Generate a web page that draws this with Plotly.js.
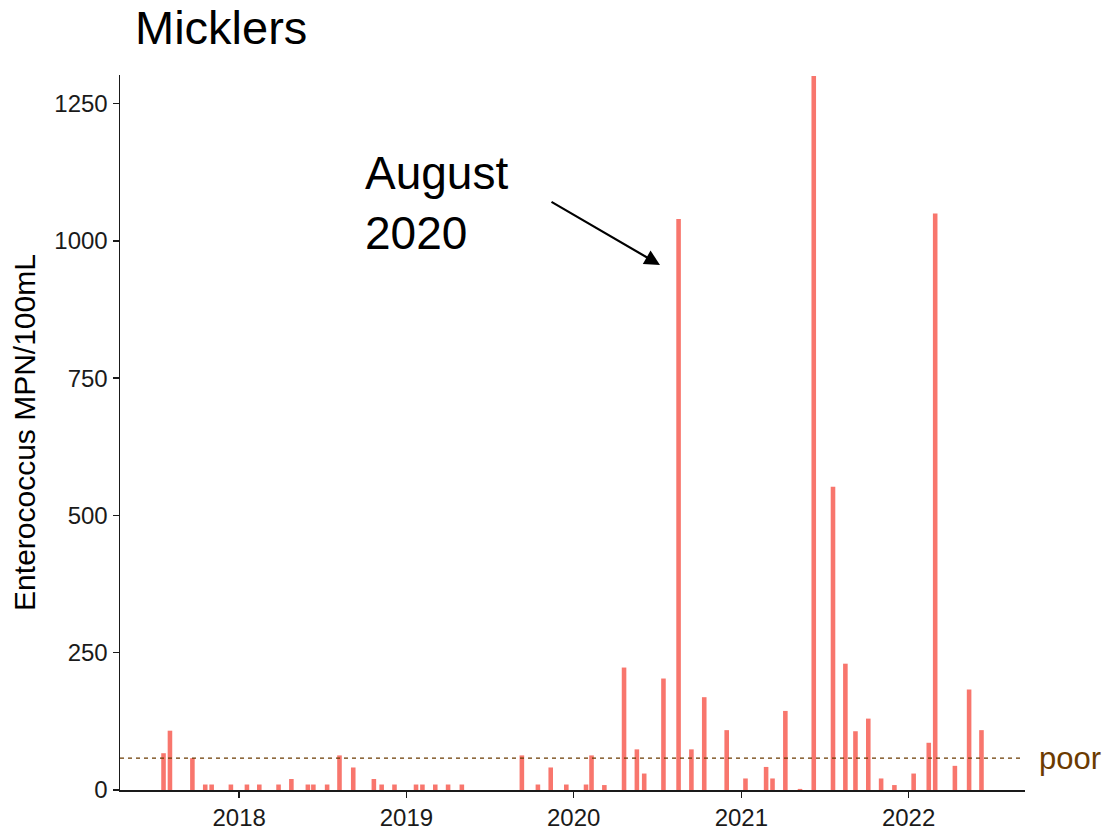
<!DOCTYPE html>
<html>
<head>
<meta charset="utf-8">
<script src="https://cdn.plot.ly/plotly-3.0.1.min.js"></script>
<style>html,body{margin:0;padding:0;background:#fff;}#chart{width:1107px;height:832px;}</style>
</head>
<body>
<div id="chart"></div>
<script>
// Sample dates (Micklers beach, Enterococcus)
const sampleDates = [
  "2017-07-20","2017-08-03","2017-09-21","2017-10-19","2017-11-02","2017-12-14",
  "2018-01-18","2018-02-14","2018-03-28","2018-04-25","2018-05-31","2018-06-12",
  "2018-07-12","2018-08-08","2018-09-07","2018-10-22","2018-11-08","2018-12-06",
  "2019-01-22","2019-02-05","2019-03-05","2019-04-02","2019-05-02","2019-09-10",
  "2019-10-15","2019-11-12","2019-12-16","2020-01-28","2020-02-09","2020-03-08",
  "2020-04-20","2020-05-18","2020-06-03","2020-07-15","2020-08-17","2020-09-14",
  "2020-10-12","2020-11-30","2021-01-10","2021-02-24","2021-03-10","2021-04-07",
  "2021-05-09","2021-06-08","2021-07-20","2021-08-16","2021-09-07","2021-10-05",
  "2021-11-02","2021-12-01","2022-01-12","2022-02-14","2022-02-28","2022-04-12",
  "2022-05-13","2022-06-09"
];
// Enterococcus MPN/100mL
const enterococcus = [
  67,108,58,10,10,10,
  10,10,10,20,10,10,
  10,63,41,20,10,10,
  10,10,10,10,10,63,
  10,41,10,10,63,9,
  223,74,30,203,1040,74,
  169,109,21,42,21,144,
  2,1300,552,230,107,130,
  21,9,30,86,1050,44,
  183,109
];
const yTickVals = [0,250,500,750,1000,1250];
const xTickVals = ["2018-01-01","2019-01-01","2020-01-01","2021-01-01","2022-01-01"];
const xTickText = ["2018","2019","2020","2021","2022"];
const poorThreshold = 58;
const chartTitle = "Micklers";
const yTitle = "Enterococcus MPN/100mL";
const calloutText = "August<br>2020";
const thresholdLabel = "poor";

const FONT = "Liberation Sans, Arial, Helvetica, sans-serif";
const DAY = 86400000;

const trace = {
  type: "bar",
  x: sampleDates,
  y: enterococcus,
  width: sampleDates.map(() => 10 * DAY),
  marker: {color: "#F8766D", line: {width: 0}},
  hoverinfo: "x+y"
};

const layout = {
  width: 1107, height: 832,
  margin: {l: 120, r: 82, t: 75, b: 42},
  paper_bgcolor: "#ffffff",
  plot_bgcolor: "#ffffff",
  showlegend: false,
  font: {family: FONT, color: "#1a1a1a"},
  title: {
    text: chartTitle,
    font: {family: FONT, size: 47, color: "#000000"},
    xref: "container", yref: "container",
    x: 135 / 1107, xanchor: "left",
    y: 1 - 28 / 832, yanchor: "middle"
  },
  xaxis: {
    type: "date",
    range: ["2017-04-16", "2022-09-12"],
    tickvals: xTickVals,
    ticktext: xTickText,
    showgrid: false, zeroline: false,
    showline: true, linecolor: "#1a1a1a", linewidth: 1.5,
    ticks: "outside", ticklen: 6, tickwidth: 1.5, tickcolor: "#1a1a1a",
    tickfont: {family: FONT, size: 24, color: "#1a1a1a"},
    automargin: false
  },
  yaxis: {
    range: [0, 1302],
    tickvals: yTickVals,
    showgrid: false, zeroline: false,
    showline: true, linecolor: "#1a1a1a", linewidth: 1.5,
    ticks: "outside", ticklen: 6, tickwidth: 1.5, tickcolor: "#1a1a1a",
    tickfont: {family: FONT, size: 24, color: "#1a1a1a"},
    title: {text: yTitle, font: {family: FONT, size: 30, color: "#000000"}, standoff: 10},
    automargin: false
  },
  shapes: [{
    type: "line", xref: "paper", yref: "y",
    x0: 0, x1: 0.995, y0: poorThreshold, y1: poorThreshold,
    line: {color: "#6B3A00", width: 1.2, dash: "4px,4px"}
  }],
  annotations: [
    {
      text: calloutText, xref: "paper", yref: "paper",
      x: (363 - 120) / 905, xanchor: "left",
      y: (790 - 203) / 715, yanchor: "middle",
      align: "left", showarrow: false,
      font: {family: FONT, size: 46, color: "#000000"}
    },
    {
      text: "", xref: "paper", yref: "paper",
      x: (660 - 120) / 905, y: (790 - 265) / 715,
      ax: -110, ay: -64,
      showarrow: true, arrowhead: 2, arrowsize: 1.4, arrowwidth: 2.2,
      arrowcolor: "#000000", standoff: 0
    },
    {
      text: thresholdLabel, xref: "paper", yref: "y",
      x: (1037 - 120) / 905, xanchor: "left",
      y: poorThreshold, yanchor: "middle",
      showarrow: false,
      font: {family: FONT, size: 31, color: "#6B3A00"}
    }
  ]
};

Plotly.newPlot("chart", [trace], layout, {displayModeBar: false, staticPlot: true});
</script>
</body>
</html>
